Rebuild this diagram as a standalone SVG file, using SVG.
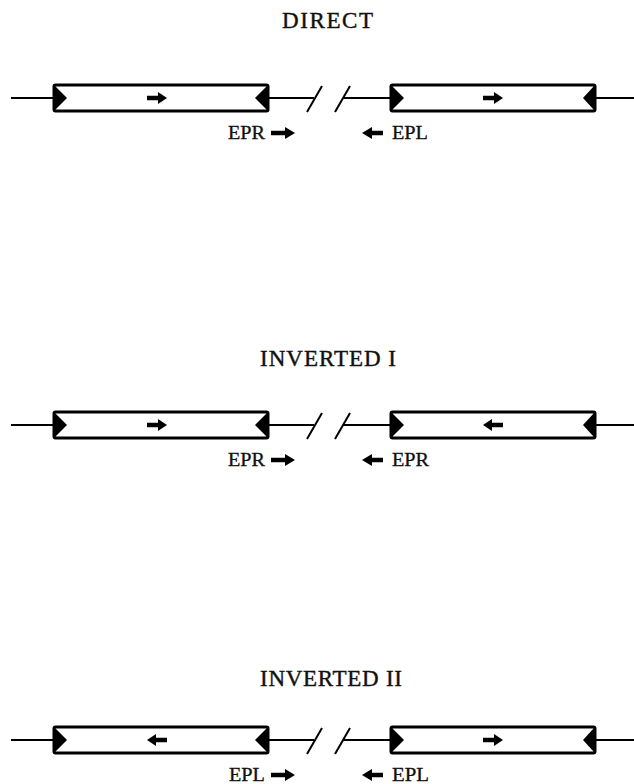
<svg xmlns="http://www.w3.org/2000/svg" width="634" height="784" viewBox="0 0 634 784">
<style>
.title{font-family:"Liberation Serif","DejaVu Serif",serif;font-size:23px;fill:#111;stroke:#111;stroke-width:0.4;}
.lbl{font-family:"Liberation Serif","DejaVu Serif",serif;font-size:18px;fill:#111;stroke:#111;stroke-width:0.3;}
.box{fill:#fff;stroke:#000;stroke-width:3;}
.tri{fill:#000;}
.ln{stroke:#000;stroke-width:2;fill:none;}
.sl{stroke:#000;stroke-width:2;fill:none;}
.ar{stroke:#000;stroke-width:4.5;fill:none;}
.arl{stroke:#000;stroke-width:4.5;fill:none;}
</style>
<defs>
<g id="boxL">
<rect class="box" x="54" y="-13" width="214" height="26" rx="1.5"/>
<polygon class="tri" points="55,-12 67,0 55,12"/>
<polygon class="tri" points="267,-12 255,0 267,12"/>
</g>
<g id="boxR">
<rect class="box" x="391" y="-13" width="204" height="26" rx="1.5"/>
<polygon class="tri" points="392,-12 404,0 392,12"/>
<polygon class="tri" points="594,-12 583,0 594,12"/>
</g>
<g id="wires">
<line class="ln" x1="11" y1="0" x2="54" y2="0"/>
<line class="ln" x1="268" y1="0" x2="314" y2="0"/>
<line class="ln" x1="343" y1="0" x2="391" y2="0"/>
<line class="ln" x1="595" y1="0" x2="634" y2="0"/>
<line class="sl" x1="307" y1="14" x2="322" y2="-12"/>
<line class="sl" x1="335" y1="14" x2="350" y2="-12"/>
</g>
<g id="aR"><line class="ar" x1="-10" y1="0" x2="3" y2="0"/><polygon points="1,-6 10,0 1,6" fill="#000"/></g>
<g id="aL"><line class="ar" x1="10" y1="0" x2="-3" y2="0"/><polygon points="-1,-6 -10,0 -1,6" fill="#000"/></g>
<g id="lR"><line class="arl" x1="271" y1="0" x2="287" y2="0"/><polygon points="285,-6 295,0 285,6" fill="#000"/></g>
<g id="lL"><line class="arl" x1="383" y1="0" x2="370" y2="0"/><polygon points="372,-6 362,0 372,6" fill="#000"/></g>
</defs>

<g id="connectors">
<use href="#wires" transform="translate(0,98)"/>
<use href="#wires" transform="translate(0,425)"/>
<use href="#wires" transform="translate(0,740)"/>
</g>

<g id="direct">
<text class="title" x="282" y="28" textLength="91" lengthAdjust="spacing">DIRECT</text>
<g id="direct-left"><use href="#boxL" transform="translate(0,98)"/><use href="#aR" transform="translate(157,98)"/></g>
<g id="direct-right"><use href="#boxR" transform="translate(0,98)"/><use href="#aR" transform="translate(493,98)"/></g>
<g id="direct-labels">
<text class="lbl" x="228" y="139" textLength="37" lengthAdjust="spacingAndGlyphs">EPR</text>
<use href="#lR" transform="translate(0,133)"/>
<use href="#lL" transform="translate(0,133)"/>
<text class="lbl" x="392" y="139" textLength="36" lengthAdjust="spacingAndGlyphs">EPL</text>
</g>
</g>

<g id="inverted1">
<text class="title" x="260" y="366" textLength="136" lengthAdjust="spacing">INVERTED I</text>
<g id="inv1-left"><use href="#boxL" transform="translate(0,425)"/><use href="#aR" transform="translate(157,425)"/></g>
<g id="inv1-right"><use href="#boxR" transform="translate(0,425)"/><use href="#aL" transform="translate(493,425)"/></g>
<g id="inv1-labels">
<text class="lbl" x="228" y="466" textLength="37" lengthAdjust="spacingAndGlyphs">EPR</text>
<use href="#lR" transform="translate(0,460)"/>
<use href="#lL" transform="translate(0,460)"/>
<text class="lbl" x="392" y="466" textLength="37" lengthAdjust="spacingAndGlyphs">EPR</text>
</g>
</g>

<g id="inverted2">
<text class="title" x="260" y="686" textLength="142" lengthAdjust="spacing">INVERTED II</text>
<g id="inv2-left"><use href="#boxL" transform="translate(0,740)"/><use href="#aL" transform="translate(157,740)"/></g>
<g id="inv2-right"><use href="#boxR" transform="translate(0,740)"/><use href="#aR" transform="translate(493,740)"/></g>
<g id="inv2-labels">
<text class="lbl" x="229" y="781" textLength="36" lengthAdjust="spacingAndGlyphs">EPL</text>
<use href="#lR" transform="translate(0,775)"/>
<use href="#lL" transform="translate(0,775)"/>
<text class="lbl" x="392" y="781" textLength="37" lengthAdjust="spacingAndGlyphs">EPL</text>
</g>
</g>
</svg>
